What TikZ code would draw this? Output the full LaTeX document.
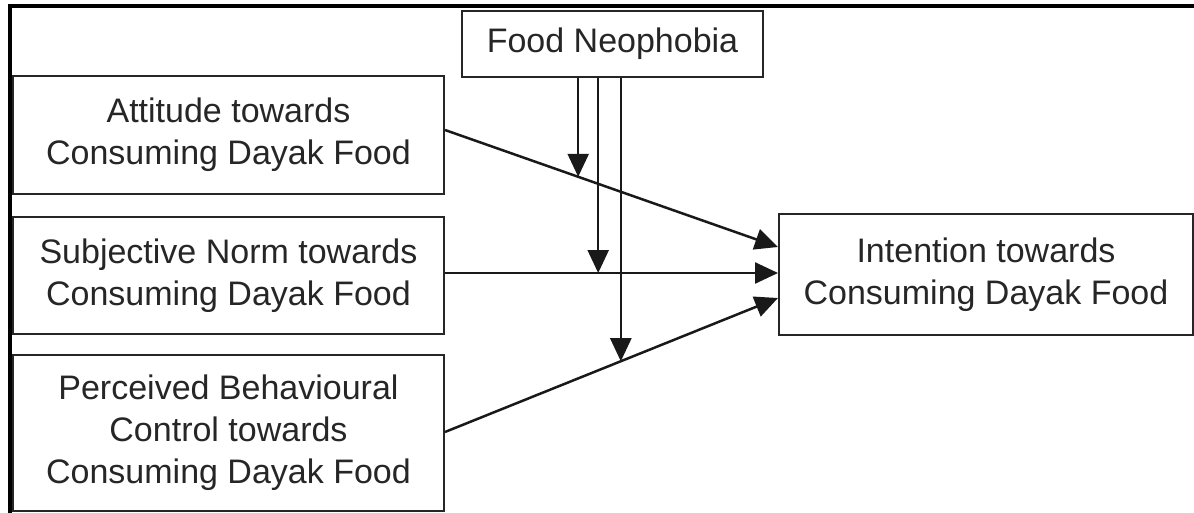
\documentclass[tikz,border=0pt]{standalone}
\usepackage{fontspec}
\setmainfont{Liberation Sans}
\usetikzlibrary{arrows.meta,calc}
\begin{document}
\begin{tikzpicture}[x=1pt,y=-1pt,>={Triangle[length=23pt,width=21pt]},
    box/.style={draw=black!85,line width=2pt,align=center,text=black!85,
        font=\fontsize{34}{42}\selectfont,inner sep=0pt},
    link/.style={->,line width=2.5pt,draw=black!90}]
    \useasboundingbox (0,0) rectangle (1194,513);
    \draw[line width=4pt](1194,6.5)--(10,6.5)--(10,513);
\node[box,minimum width=301pt,minimum height=66pt] (neo) at (612.5,44) {Food Neophobia};
\node[box,minimum width=431pt,minimum height=118pt] (att) at (228.5,135) {Attitude towards\\Consuming Dayak Food};
\node[box,minimum width=431pt,minimum height=117pt] (sn) at (228.5,275.5) {Subjective Norm towards\\Consuming Dayak Food};
\node[box,minimum width=431pt,minimum height=156pt] (pbc) at (228.5,433) {Perceived Behavioural\\Control towards\\Consuming Dayak Food};
\node[box,minimum width=414pt,minimum height=121pt] (int) at (986,274.5) {Intention towards\\Consuming Dayak Food};
    \coordinate (a1) at ([yshift=5pt]att.east);
    \coordinate (a2) at ([yshift=2.5pt]sn.east);
    \coordinate (a3) at ([yshift=1pt]pbc.east);
    \coordinate (b1) at ([yshift=27.5pt]int.west);
    \coordinate (b2) at ([yshift=1.5pt]int.west);
    \coordinate (b3) at ([yshift=-23.5pt]int.west);
\foreach \s/\t in {a1/b1,a2/b2,a3/b3}
{
    \draw[link](\s)--(\t);
}
    \coordinate (m1) at ($(a1)!0.4!(b1)$);
    \coordinate (m2) at ($(a2)!0.46!(b2)$);
    \coordinate (m3) at ($(a3)!0.528!(b3)$);
\foreach \m in {m1,m2,m3}
{
    \draw[link](\m |- neo.south)--(\m);
}
\end{tikzpicture}
\end{document}
